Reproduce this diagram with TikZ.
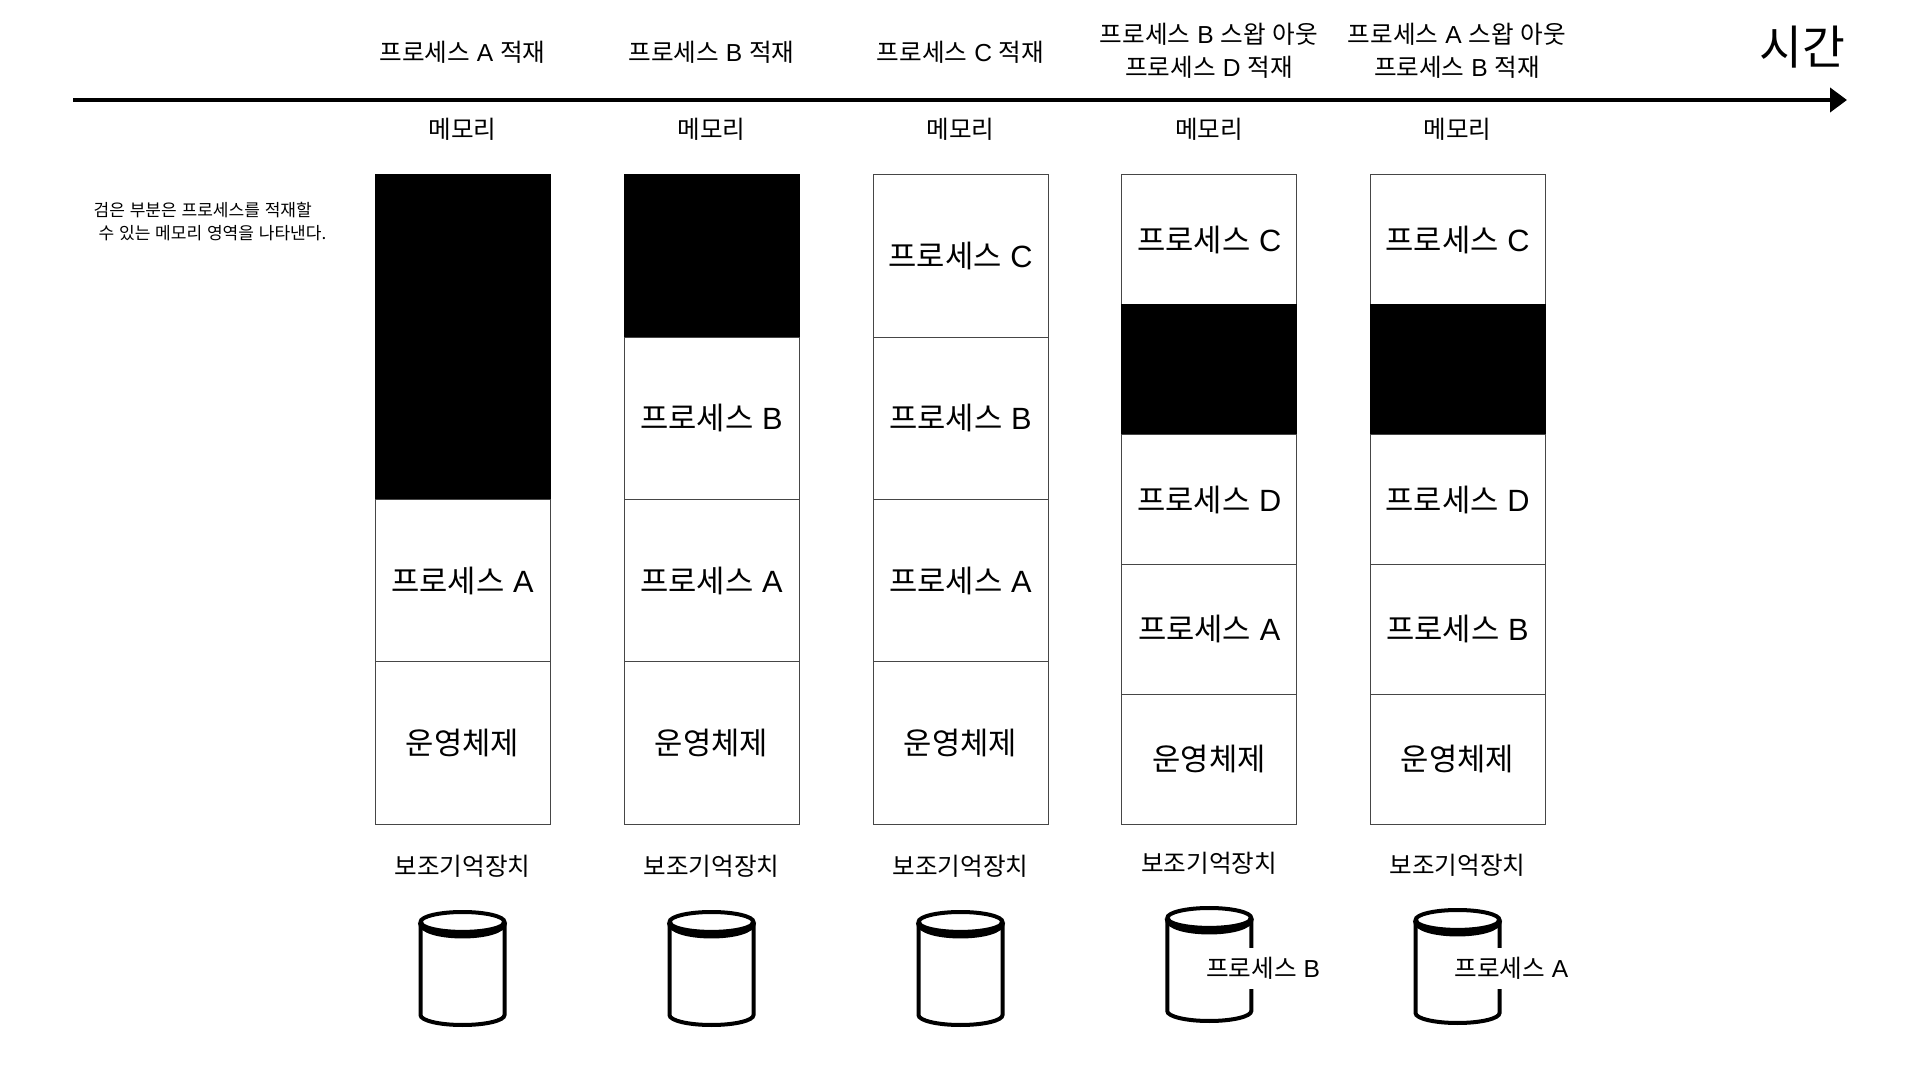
\documentclass[tikz,border=0pt]{standalone}
\usepackage{fontspec}
\usepackage{xcolor}
\setmainfont[WordSpace=1.25]{Noto Sans CJK KR}
\newfontfamily\latinfont{Liberation Sans}
\newcommand{\proc}[1]{프로세스 {\latinfont #1}}
\usetikzlibrary{positioning,arrows.meta,shapes.geometric}
\definecolor{cellline}{RGB}{70,70,70}
\tikzset{
  tall/.style={rectangle, draw=cellline, line width=0.02cm, minimum width=3.5cm, minimum height=3.245cm, outer sep=0pt, inner sep=0pt, font=\fontsize{17.5}{20}\selectfont},
  short/.style={tall, minimum height=2.596cm},
  freetall/.style={tall, fill=black, draw=black},
  freeshort/.style={short, fill=black, draw=black},
  caption/.style={inner sep=0pt, align=center, font=\fontsize{14}{18.7}\selectfont},
  disk/.style={cylinder, shape border rotate=90, draw=black, line width=0.08cm, minimum width=1.68cm, minimum height=2.26cm, aspect=1.7, outer sep=0pt},
  diskrim/.style={line width=0.11cm, out=-90, in=-90, looseness=0.56},
  swapped/.style={caption, fill=white, minimum height=0.82cm, inner sep=0pt}
}
\begin{document}
\begin{tikzpicture}[node distance=0pt]
  \useasboundingbox (0,0) rectangle (38.4,-21.6);

  % time axis
  \coordinate (axisstart) at (1.46,-2);
  \coordinate (axisend) at (36.94,-2);
  \draw[-{Triangle[length=0.34cm,width=0.48cm]}, line width=0.08cm] (axisstart) -- (axisend);
  \node[inner sep=0pt, font=\fontsize{26.5}{30}\selectfont] (timelabel) at (36.05,-0.94) {시간};
  \node[inner sep=0pt, align=left, font=\fontsize{9.7}{12.8}\selectfont] (note) at (4.2,-4.43) {검은 부분은 프로세스를 적재할\\[0pt]\hspace{0.1cm}수 있는 메모리 영역을 나타낸다.};

  % step 1
  \node[freetall, anchor=north] (freeAa) at (9.25,-3.5) {};
  \node[freetall, below=of freeAa] (freeAb) {};
  \node[tall, below=of freeAb] (procAa) {\proc{A}};
  \node[tall, below=of procAa] (osA) {운영체제};
  \node[caption] (eventA) at (9.25,-1.04) {\proc{A} 적재};
  \node[caption, above=0.68cm of freeAa] (memA) {메모리};
  \node[caption, below=0.62cm of osA] (storeA) {보조기억장치};
  \node[disk, below=0.68cm of storeA] (diskA) {};
  \draw[diskrim] (diskA.before top) to (diskA.after top);

  % step 2
  \node[freetall, right=1.48cm of freeAa] (freeBa) {};
  \node[tall, below=of freeBa] (procBb) {\proc{B}};
  \node[tall, below=of procBb] (procBa) {\proc{A}};
  \node[tall, below=of procBa] (osB) {운영체제};
  \node[caption] (eventB) at (14.23,-1.04) {\proc{B} 적재};
  \node[caption, above=0.68cm of freeBa] (memB) {메모리};
  \node[caption, below=0.62cm of osB] (storeB) {보조기억장치};
  \node[disk, below=0.68cm of storeB] (diskB) {};
  \draw[diskrim] (diskB.before top) to (diskB.after top);

  % step 3
  \node[tall, right=1.48cm of freeBa] (procCc) {\proc{C}};
  \node[tall, below=of procCc] (procCb) {\proc{B}};
  \node[tall, below=of procCb] (procCa) {\proc{A}};
  \node[tall, below=of procCa] (osC) {운영체제};
  \node[caption] (eventC) at (19.21,-1.04) {\proc{C} 적재};
  \node[caption, above=0.68cm of procCc] (memC) {메모리};
  \node[caption, below=0.62cm of osC] (storeC) {보조기억장치};
  \node[disk, below=0.68cm of storeC] (diskC) {};
  \draw[diskrim] (diskC.before top) to (diskC.after top);

  % step 4
  \node[short, anchor=north] (procDc) at (24.185,-3.5) {\proc{C}};
  \node[freeshort, below=of procDc] (freeD) {};
  \node[short, below=of freeD] (procDd) {\proc{D}};
  \node[short, below=of procDd] (procDa) {\proc{A}};
  \node[short, below=of procDa] (osD) {운영체제};
  \node[caption] (eventD) at (24.18,-1.02) {\proc{B} 스왑 아웃\\\proc{D} 적재};
  \node[caption, above=0.68cm of procDc] (memD) {메모리};
  \node[caption, below=0.56cm of osD] (storeD) {보조기억장치};
  \node[disk, below=0.66cm of storeD] (diskD) {};
  \draw[diskrim] (diskD.before top) to (diskD.after top);
  \node[swapped, right=-0.07cm of diskD.shape center, yshift=-0.08cm] (swapD) {\proc{B}};

  % step 5
  \node[short, right=1.465cm of procDc] (procEc) {\proc{C}};
  \node[freeshort, below=of procEc] (freeE) {};
  \node[short, below=of freeE] (procEd) {\proc{D}};
  \node[short, below=of procEd] (procEb) {\proc{B}};
  \node[short, below=of procEb] (osE) {운영체제};
  \node[caption] (eventE) at (29.14,-1.02) {\proc{A} 스왑 아웃\\\proc{B} 적재};
  \node[caption, above=0.68cm of procEc] (memE) {메모리};
  \node[caption, below=0.6cm of osE] (storeE) {보조기억장치};
  \node[disk, below=0.66cm of storeE] (diskE) {};
  \draw[diskrim] (diskE.before top) to (diskE.after top);
  \node[swapped, right=-0.07cm of diskE.shape center, yshift=-0.04cm] (swapE) {\proc{A}};
\end{tikzpicture}
\end{document}
